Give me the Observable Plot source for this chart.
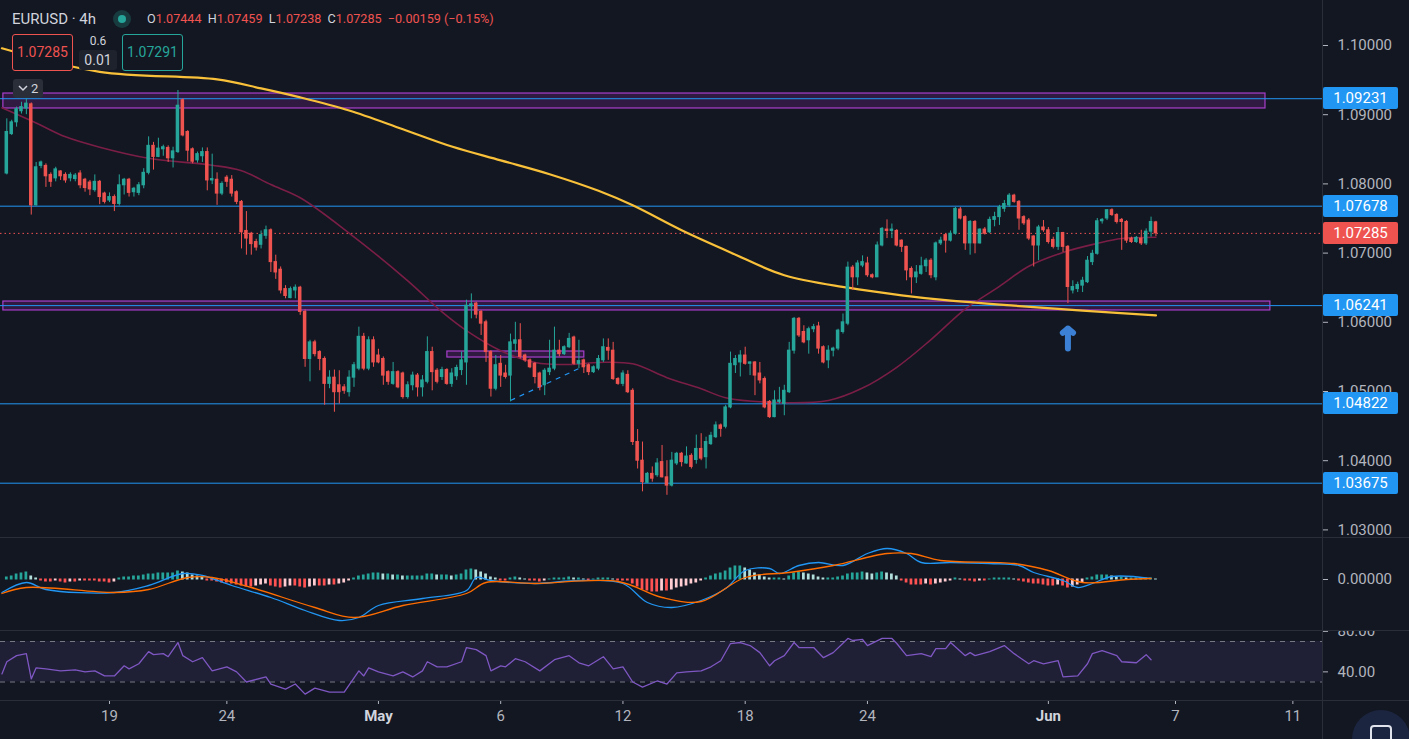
<!DOCTYPE html>
<html><head><meta charset="utf-8">
<script src="https://cdn.jsdelivr.net/npm/d3@7"></script>
<script src="https://cdn.jsdelivr.net/npm/@observablehq/plot@0.6"></script>
<style>
html,body{margin:0;padding:0;background:#131722;overflow:hidden;}
#wrap{position:relative;width:1409px;height:739px;overflow:hidden;background:#131722;font-family:Roboto,"Liberation Sans",sans-serif;}
#wrap svg{display:block;}
.pane{position:absolute;left:0;}
</style></head>
<body><div id="wrap"></div>
<script>
// ---------------- DATA ----------------
const symbol = "EURUSD · 4h";
const FIRST_BAR = -21; // bar index of first candle (bar 0 = 19 Apr 00:00)
// [open, high, low, close]
const ohlc = [
[1.0815,1.0894,1.0813,1.0875],[1.0872,1.0892,1.0870,1.0889],[1.0889,1.0911,1.0882,1.0908],[1.0905,1.0918,1.0901,1.0911],[1.0909,1.0923,1.0900,1.0916],
[1.0915,1.0917,1.0755,1.0769],[1.0769,1.0831,1.0768,1.0824],[1.0826,1.0833,1.0822,1.0831],[1.0826,1.0829,1.0795,1.0811],[1.0813,1.0816,1.0795,1.0803],
[1.0808,1.0824,1.0803,1.0821],[1.0818,1.0819,1.0805,1.0811],[1.0813,1.0816,1.0801,1.0805],[1.0808,1.0816,1.0803,1.0813],[1.0807,1.0815,1.0803,1.0812],
[1.0815,1.0819,1.0793,1.0798],[1.0806,1.0808,1.0788,1.0794],[1.0802,1.0805,1.0783,1.0792],[1.0791,1.0813,1.0788,1.0803],[1.0803,1.0805,1.0770,1.0781],
[1.0786,1.0788,1.0771,1.0774],[1.0776,1.0787,1.0773,1.0781],[1.0781,1.0784,1.0760,1.0771],[1.0771,1.0813,1.0768,1.0798],[1.0798,1.0808,1.0784,1.0806],
[1.0806,1.0808,1.0781,1.0787],[1.0788,1.0795,1.0781,1.0793],[1.0787,1.0802,1.0783,1.0798],[1.0798,1.0822,1.0793,1.0816],[1.0816,1.0868,1.0813,1.0855],
[1.0855,1.0860,1.0820,1.0839],[1.0839,1.0866,1.0838,1.0851],[1.0850,1.0856,1.0840,1.0853],[1.0852,1.0855,1.0831,1.0837],[1.0837,1.0853,1.0823,1.0847],
[1.0846,1.0935,1.0844,1.0913],[1.0921,1.0923,1.0868,1.0870],[1.0875,1.0877,1.0832,1.0848],[1.0850,1.0852,1.0829,1.0832],[1.0834,1.0846,1.0830,1.0843],
[1.0840,1.0852,1.0831,1.0846],[1.0846,1.0852,1.0790,1.0805],[1.0805,1.0843,1.0799,1.0807],[1.0806,1.0816,1.0769,1.0786],[1.0786,1.0803,1.0783,1.0800],
[1.0809,1.0812,1.0795,1.0803],[1.0806,1.0812,1.0781,1.0786],[1.0788,1.0790,1.0770,1.0774],[1.0774,1.0776,1.0706,1.0730],[1.0732,1.0760,1.0697,1.0721],
[1.0728,1.0730,1.0697,1.0713],[1.0716,1.0720,1.0703,1.0708],[1.0712,1.0732,1.0706,1.0726],[1.0725,1.0739,1.0720,1.0733],[1.0733,1.0735,1.0672,1.0687],
[1.0687,1.0697,1.0662,1.0672],[1.0676,1.0680,1.0641,1.0646],[1.0648,1.0653,1.0634,1.0638],[1.0635,1.0651,1.0634,1.0648],[1.0646,1.0654,1.0634,1.0650],
[1.0650,1.0652,1.0610,1.0615],[1.0615,1.0618,1.0535,1.0547],[1.0547,1.0574,1.0514,1.0571],[1.0571,1.0574,1.0550,1.0554],[1.0557,1.0559,1.0530,1.0547],
[1.0547,1.0550,1.0480,1.0511],[1.0511,1.0530,1.0504,1.0520],[1.0520,1.0531,1.0470,1.0499],[1.0509,1.0530,1.0482,1.0499],[1.0506,1.0510,1.0496,1.0501],
[1.0499,1.0530,1.0492,1.0520],[1.0520,1.0542,1.0506,1.0538],[1.0533,1.0593,1.0530,1.0579],[1.0579,1.0584,1.0530,1.0533],[1.0533,1.0579,1.0530,1.0574],
[1.0574,1.0579,1.0535,1.0542],[1.0552,1.0561,1.0540,1.0542],[1.0547,1.0550,1.0509,1.0523],[1.0528,1.0530,1.0509,1.0514],[1.0511,1.0542,1.0509,1.0528],
[1.0528,1.0530,1.0504,1.0506],[1.0526,1.0528,1.0489,1.0492],[1.0492,1.0514,1.0489,1.0509],[1.0509,1.0528,1.0501,1.0523],[1.0523,1.0526,1.0492,1.0506],
[1.0506,1.0523,1.0492,1.0516],[1.0514,1.0579,1.0511,1.0557],[1.0557,1.0564,1.0501,1.0528],[1.0530,1.0533,1.0511,1.0514],[1.0521,1.0535,1.0516,1.0531],
[1.0531,1.0533,1.0509,1.0511],[1.0511,1.0533,1.0506,1.0526],[1.0522,1.0538,1.0516,1.0534],[1.0531,1.0557,1.0523,1.0545],[1.0542,1.0632,1.0509,1.0624],
[1.0623,1.0641,1.0605,1.0626],[1.0627,1.0629,1.0605,1.0611],[1.0615,1.0617,1.0581,1.0598],[1.0600,1.0603,1.0542,1.0557],[1.0557,1.0559,1.0492,1.0504],
[1.0504,1.0552,1.0501,1.0538],[1.0540,1.0552,1.0506,1.0523],[1.0526,1.0538,1.0518,1.0521],[1.0523,1.0583,1.0485,1.0571],[1.0569,1.0600,1.0557,1.0574],
[1.0574,1.0598,1.0547,1.0550],[1.0552,1.0554,1.0542,1.0545],[1.0545,1.0547,1.0533,1.0535],[1.0540,1.0542,1.0511,1.0521],[1.0526,1.0528,1.0501,1.0506],
[1.0509,1.0533,1.0494,1.0530],[1.0528,1.0574,1.0523,1.0533],[1.0533,1.0593,1.0530,1.0559],[1.0559,1.0574,1.0550,1.0554],[1.0554,1.0566,1.0552,1.0564],
[1.0564,1.0584,1.0562,1.0576],[1.0578,1.0580,1.0538,1.0540],[1.0540,1.0574,1.0533,1.0544],[1.0545,1.0547,1.0526,1.0535],[1.0538,1.0540,1.0523,1.0528],
[1.0528,1.0537,1.0526,1.0535],[1.0533,1.0552,1.0530,1.0547],[1.0545,1.0576,1.0542,1.0564],[1.0563,1.0576,1.0545,1.0559],[1.0559,1.0571,1.0516,1.0518],
[1.0518,1.0520,1.0509,1.0511],[1.0511,1.0530,1.0507,1.0526],[1.0524,1.0530,1.0497,1.0499],[1.0501,1.0504,1.0422,1.0427],[1.0427,1.0445,1.0388,1.0400],
[1.0400,1.0427,1.0355,1.0369],[1.0368,1.0383,1.0367,1.0381],[1.0381,1.0391,1.0369,1.0374],[1.0379,1.0403,1.0376,1.0396],[1.0398,1.0422,1.0375,1.0376],
[1.0376,1.0400,1.0350,1.0364],[1.0364,1.0412,1.0362,1.0400],[1.0396,1.0412,1.0393,1.0410],[1.0410,1.0412,1.0391,1.0398],[1.0396,1.0420,1.0395,1.0406],
[1.0407,1.0410,1.0388,1.0391],[1.0401,1.0437,1.0395,1.0417],[1.0417,1.0439,1.0400,1.0403],[1.0405,1.0434,1.0388,1.0427],[1.0424,1.0441,1.0422,1.0436],
[1.0434,1.0456,1.0432,1.0451],[1.0451,1.0453,1.0434,1.0446],[1.0449,1.0480,1.0446,1.0477],[1.0477,1.0557,1.0475,1.0540],[1.0538,1.0552,1.0526,1.0547],
[1.0542,1.0559,1.0521,1.0552],[1.0552,1.0564,1.0538,1.0540],[1.0540,1.0543,1.0523,1.0542],[1.0542,1.0543,1.0494,1.0523],[1.0526,1.0542,1.0511,1.0516],
[1.0518,1.0521,1.0475,1.0477],[1.0485,1.0487,1.0461,1.0463],[1.0463,1.0501,1.0462,1.0487],[1.0485,1.0506,1.0482,1.0487],[1.0482,1.0509,1.0465,1.0501],
[1.0499,1.0571,1.0497,1.0559],[1.0559,1.0607,1.0554,1.0605],[1.0605,1.0607,1.0578,1.0581],[1.0586,1.0595,1.0569,1.0571],[1.0574,1.0593,1.0554,1.0590],
[1.0590,1.0597,1.0585,1.0593],[1.0594,1.0600,1.0554,1.0562],[1.0564,1.0566,1.0540,1.0542],[1.0545,1.0566,1.0533,1.0559],[1.0559,1.0564,1.0550,1.0562],
[1.0562,1.0590,1.0559,1.0588],[1.0586,1.0612,1.0583,1.0600],[1.0598,1.0687,1.0595,1.0679],[1.0679,1.0682,1.0646,1.0665],[1.0665,1.0689,1.0653,1.0685],
[1.0682,1.0696,1.0679,1.0687],[1.0685,1.0694,1.0665,1.0668],[1.0668,1.0670,1.0663,1.0665],[1.0665,1.0716,1.0665,1.0711],[1.0711,1.0737,1.0709,1.0735],
[1.0734,1.0748,1.0721,1.0732],[1.0732,1.0742,1.0721,1.0734],[1.0732,1.0734,1.0709,1.0711],[1.0718,1.0719,1.0701,1.0709],[1.0709,1.0710,1.0660,1.0675],
[1.0677,1.0680,1.0641,1.0665],[1.0665,1.0682,1.0656,1.0672],[1.0670,1.0694,1.0668,1.0681],[1.0681,1.0692,1.0672,1.0689],[1.0689,1.0692,1.0663,1.0668],
[1.0665,1.0716,1.0660,1.0714],[1.0714,1.0723,1.0711,1.0718],[1.0726,1.0728,1.0700,1.0718],[1.0718,1.0732,1.0716,1.0728],[1.0728,1.0766,1.0726,1.0764],
[1.0763,1.0766,1.0748,1.0750],[1.0752,1.0754,1.0704,1.0714],[1.0714,1.0747,1.0697,1.0745],[1.0745,1.0747,1.0699,1.0714],[1.0714,1.0735,1.0713,1.0734],
[1.0734,1.0737,1.0726,1.0728],[1.0730,1.0752,1.0728,1.0748],[1.0748,1.0759,1.0738,1.0752],[1.0752,1.0769,1.0740,1.0766],[1.0764,1.0776,1.0759,1.0771],
[1.0769,1.0786,1.0766,1.0783],[1.0783,1.0785,1.0772,1.0774],[1.0774,1.0776,1.0733,1.0750],[1.0752,1.0754,1.0740,1.0743],[1.0747,1.0750,1.0718,1.0721],
[1.0724,1.0725,1.0680,1.0711],[1.0711,1.0740,1.0689,1.0737],[1.0737,1.0747,1.0730,1.0733],[1.0733,1.0737,1.0713,1.0716],[1.0719,1.0723,1.0706,1.0709],
[1.0709,1.0737,1.0704,1.0729],[1.0729,1.0730,1.0701,1.0709],[1.0709,1.0711,1.0627,1.0651],[1.0646,1.0660,1.0641,1.0651],[1.0648,1.0658,1.0643,1.0654],
[1.0653,1.0665,1.0643,1.0660],[1.0658,1.0695,1.0656,1.0689],[1.0687,1.0704,1.0682,1.0699],[1.0699,1.0750,1.0697,1.0746],[1.0746,1.0750,1.0742,1.0748],
[1.0750,1.0763,1.0747,1.0762],[1.0762,1.0764,1.0753,1.0755],[1.0755,1.0757,1.0742,1.0745],[1.0748,1.0750,1.0704,1.0745],[1.0745,1.0747,1.0714,1.0718],
[1.0721,1.0723,1.0714,1.0716],[1.0716,1.0724,1.0714,1.0722],[1.0721,1.0733,1.0711,1.0714],[1.0714,1.0735,1.0711,1.0731],[1.0731,1.0752,1.0723,1.0745],
[1.07444,1.07459,1.07238,1.07285]
];
// slow moving average (yellow) [bar, price]
const slowMA = [[-22,1.0996],[-2,1.0962],[22,1.0951],[31,1.0938],[39,1.0925],[49,1.0906],[60,1.0879],[70,1.0854],[80,1.0834],[90,1.0814],[100,1.0790],[107,1.0769],[117,1.0733],[127,1.0701],[138,1.0668],[151,1.0650],[162,1.0639],[171,1.0632],[185,1.0624],[199,1.0617],[214,1.0610]];
// fast moving average (maroon) [bar, price]
const fastMA = [[-22,1.0910],[-15,1.0888],[-9,1.0868],[-2,1.0853],[8,1.0837],[21,1.0827],[27,1.0819],[33,1.0799],[39,1.0780],[49,1.0729],[61,1.0660],[68,1.0615],[73,1.0588],[80,1.0559],[87,1.0542],[94,1.0539],[100,1.0542],[107,1.0540],[114,1.0520],[121,1.0504],[126,1.0491],[137,1.0484],[147,1.0487],[154,1.0505],[161,1.0535],[168,1.0575],[175,1.0619],[182,1.0652],[188,1.0681],[195,1.0701],[202,1.0714],[207,1.0721],[214,1.0723]];
// horizontal levels
const levels = [1.09231, 1.07678, 1.06241, 1.04822, 1.03675];
const lastPrice = 1.07285;
const askPrice = 1.07291;
const change = "−0.00159 (−0.15%)";
// zones [fromBar, toBar, low, high]
const zones = [[-21.7,236.4,1.0909,1.09306],[-21.7,237.4,1.06171,1.0630],[69.1,97.1,1.05491,1.05578]];
const trendLine = [[82,1.0487,97.3,1.05376]];
const arrowUp = [[196,1.05621,1.0591]];
const priceTicks = [1.03,1.04,1.05,1.06,1.07,1.08,1.09,1.10];
// MACD, in units of 0.0001
const macdLine = [[-22,-13],[-17,-3],[-13,-10],[1,-13],[8,-6],[15,6],[19,4],[25,-6],[33,-18],[40,-31],[47,-41],[51,-38],[55,-26],[64,-19],[73,-11],[75,2],[78,-1],[87,-4],[96,-1],[105,-4],[110,-23],[115,-28],[121,-21],[126,-9],[130,9],[135,11],[137,6],[141,14],[145,17],[150,14],[155,26],[159,31],[163,26],[166,17],[172,17],[180,16],[186,14],[189,7],[195,-1],[198,-8],[201,-4],[205,3],[213,1]];
const signalLine = [[-22,-14],[-17,-8],[1,-13],[8,-10],[16,2],[21,2],[29,-8],[42,-28],[50,-38],[60,-26],[73,-14],[77,-3],[87,-4],[104,-2],[113,-18],[121,-22],[130,2],[139,7],[148,14],[159,26],[164,26],[170,19],[185,16],[192,9],[199,-3],[208,0],[213,1]];
const macdHist = [
2,3,5,6,7,3,1,-1,-2,-2, -1,-2,-3,-2,-2,-1,-1,-1,-1,-2, -2,-3,-2,1,2,2,3,3,4,5,
5,6,6,6,6,8,7,6,4,3, 2,-1,-1,-2,-3,-3,-4,-5,-6,-7, -7,-6,-5,-4,-6,-7,-8,-7,-6,-6,
-7,-8,-7,-6,-6,-6,-5,-5,-4,-3, -1,1,3,4,5,6,6,5,5,4, 4,3,3,3,3,3,5,5,4,4,
4,3,4,5,9,10,9,7,5,2, 1,-1,-1,1,2,1,0,-1,-1,-2, -1,0,1,1,1,2,1,1,0,-1,
0,1,1,1,0,-1,-1,-1,-4,-7, -10,-11,-12,-12,-11,-11,-10,-8,-7,-6, -4,-3,-1,1,3,5,6,8,11,13,
13,11,9,6,4,2,1,1,1,0, 3,6,7,6,5,4,2,1,1,1, 2,3,5,6,6,7,6,5,6,7,
6,5,3,-1,-3,-5,-5,-5,-4,-5, -4,-3,-2,-1,1,0,-1,-1,-2,-1, -1,0,1,1,1,1,0,-1,-2,-3,
-4,-4,-5,-6,-6,-5,-6,-8,-7,-5, -3,1,2,4,4,4,3,2,2,1, 1,1,1,1,1,0
];
// RSI [bar, value]
const rsi = [[-22,38],[-21,50],[-19,56],[-17,58],[-16,33],[-15,44],[-13,43],[-10,41],[-7,42],[-5,40],[-3,41],[-1,36],[1,36],[3,46],[4,43],[6,48],[8,60],[9,57],[11,58],[12,55],[14,69],[15,56],[17,50],[19,54],[21,41],[24,45],[26,40],[28,30],[32,35],[33,28],[36,23],[38,28],[40,18],[42,24],[45,20],[48,20],[51,41],[52,36],[53,44],[55,40],[58,36],[60,40],[62,35],[64,41],[65,50],[67,45],[69,45],[72,50],[73,64],[75,62],[77,56],[78,41],[80,46],[81,45],[83,53],[85,50],[88,41],[91,52],[94,56],[96,49],[98,46],[101,55],[103,43],[105,45],[107,30],[109,25],[112,31],[114,28],[116,39],[118,40],[121,41],[123,45],[125,51],[127,68],[129,69],[131,66],[133,59],[135,46],[136,51],[138,56],[140,69],[141,64],[144,64],[146,54],[148,59],[151,73],[152,71],[154,72],[155,66],[158,73],[160,73],[161,68],[163,56],[166,58],[168,55],[169,63],[171,63],[172,69],[175,56],[176,59],[177,56],[180,60],[183,66],[185,58],[188,48],[189,51],[191,48],[194,51],[195,35],[198,36],[200,48],[201,58],[203,61],[206,56],[207,50],[210,49],[212,57],[213,52]];
const rsiBand = [30, 70];
const rsiTicks = [40, 80];
// time axis: bar index of each labelled day
const xTickBars = [0, 24, 55, 80, 105, 130, 155, 192, 218, 242];
const xTickLabels = ["19", "24", "May", "6", "12", "18", "24", "Jun", "7", "11"];
const monthLabels = ["May", "Jun"];

// ---------------- LAYOUT / STYLE ----------------
const W = 1409, AXIS_W = 87;
const xDomain = [-22.29, 248.06];
const FONT = "Roboto, 'Liberation Sans', sans-serif";
const UP = "#26a69a", DOWN = "#ef5350", BLUE = "#2196f3";
const baseStyle = {background: "transparent", color: "#b2b5be", fontFamily: FONT, fontSize: "15px", overflow: "visible"};

const rows = ohlc.map((d, k) => ({i: FIRST_BAR + k, o: d[0], h: d[1], l: d[2], c: d[3]}));
const cColor = d => d.c >= d.o ? UP : DOWN;
const wrap = document.getElementById("wrap");

// ---- main price pane ----
const main = Plot.plot({
  width: W, height: 537, marginLeft: 0, marginRight: AXIS_W, marginTop: 0, marginBottom: 0,
  style: baseStyle,
  x: {domain: xDomain, axis: null},
  y: {domain: [1.028902, 1.106503]},
  marks: [
    Plot.rect(zones, {x1: d => d[0], x2: d => d[1], y1: d => d[2], y2: d => d[3], fill: "#9c27b0", fillOpacity: 0.22, stroke: "#a83fcb", strokeWidth: 1.2, clip: true}),
    Plot.ruleY(levels, {stroke: BLUE, strokeWidth: 1}),
    Plot.ruleY([lastPrice], {stroke: DOWN, strokeDasharray: "1.5,3", strokeWidth: 1}),
    Plot.line(fastMA, {x: d => d[0], y: d => d[1], stroke: "#7a1e46", strokeWidth: 1.6, curve: "catmull-rom", clip: true}),
    Plot.line(slowMA, {x: d => d[0], y: d => d[1], stroke: "#f9c13a", strokeWidth: 2.2, curve: "catmull-rom", clip: true}),
    Plot.link(trendLine, {x1: d => d[0], y1: d => d[1], x2: d => d[2], y2: d => d[3], stroke: BLUE, strokeDasharray: "5,5", strokeWidth: 1.2}),
    Plot.ruleX(rows, {x: "i", y1: "l", y2: "h", stroke: cColor, strokeWidth: 1}),
    Plot.rect(rows, {x1: d => d.i - 0.36, x2: d => d.i + 0.36, y1: d => Math.min(d.o, d.c), y2: d => Math.max(d.o, d.c), fill: cColor, insetTop: -0.5, insetBottom: -0.5}),
    Plot.arrow(arrowUp, {x1: d => d[0], x2: d => d[0], y1: d => d[1], y2: d => d[2], stroke: "#3b80d4", strokeWidth: 6, headAngle: 100, headLength: 14, strokeLinecap: "round", strokeLinejoin: "round"}),
    Plot.axisY({anchor: "right", ticks: priceTicks, tickFormat: d => d.toFixed(5), tickSize: 5, tickPadding: 10, label: null, fontSize: 15})
  ]
});
main.classList.add("pane"); main.style.top = "0px";
wrap.appendChild(main);

// ---- MACD pane ----
const histRows = macdHist.map((v, k) => ({i: FIRST_BAR + k, v, p: k ? macdHist[k - 1] : v}));
const histColor = d => d.v >= 0 ? (d.v >= d.p ? "#26a69a" : "#b2dfdb") : (d.v <= d.p ? "#ff5252" : "#ffcdd2");
const macd = Plot.plot({
  width: W, height: 93, marginLeft: 0, marginRight: AXIS_W, marginTop: 0, marginBottom: 0,
  style: baseStyle,
  x: {domain: xDomain, axis: null},
  y: {domain: [-51, 42]},
  marks: [
    Plot.rect(histRows, {x1: d => d.i - 0.28, x2: d => d.i + 0.28, y1: 0, y2: "v", fill: histColor, insetTop: -0.5, insetBottom: -0.5}),
    Plot.line(macdLine, {x: d => d[0], y: d => d[1], stroke: BLUE, strokeWidth: 1.3, curve: "catmull-rom", clip: true}),
    Plot.line(signalLine, {x: d => d[0], y: d => d[1], stroke: "#ff6d00", strokeWidth: 1.3, curve: "catmull-rom", clip: true}),
    Plot.axisY({anchor: "right", ticks: [0], tickFormat: () => "0.00000", tickSize: 5, tickPadding: 10, label: null, fontSize: 15})
  ]
});
macd.classList.add("pane"); macd.style.top = "537px";
wrap.appendChild(macd);

// ---- RSI pane + time axis ----
const tickLabel = d => xTickLabels[xTickBars.indexOf(d)];
const rsiPlot = Plot.plot({
  width: W, height: 109, marginLeft: 0, marginRight: AXIS_W, marginTop: 0, marginBottom: 39,
  style: {...baseStyle, overflow: "hidden"},
  x: {domain: xDomain},
  y: {domain: [11.73, 80.86]},
  marks: [
    Plot.rect([rsiBand], {y1: d => d[0], y2: d => d[1], fill: "#7e57c2", fillOpacity: 0.12}),
    Plot.ruleY(rsiBand, {stroke: "#787b86", strokeDasharray: "5,5", strokeWidth: 1}),
    Plot.line(rsi, {x: d => d[0], y: d => d[1], stroke: "#7e57c2", strokeWidth: 1.3, clip: true}),
    Plot.axisY({anchor: "right", ticks: rsiTicks, tickFormat: d => d.toFixed(2), tickSize: 5, tickPadding: 10, label: null, fontSize: 15}),
    Plot.axisX({anchor: "bottom", ticks: xTickBars.filter(b => !monthLabels.includes(tickLabel(b))), tickFormat: tickLabel, tickSize: 4, tickPadding: 6, label: null, fontSize: 15}),
    Plot.axisX({anchor: "bottom", ticks: xTickBars.filter(b => monthLabels.includes(tickLabel(b))), tickFormat: tickLabel, tickSize: 4, tickPadding: 6, label: null, fontSize: 15, fontWeight: "bold", fill: "#d1d4dc"})
  ]
});
rsiPlot.classList.add("pane"); rsiPlot.style.top = "630px";
wrap.appendChild(rsiPlot);

// ---- separators ----
function div(css, html) { const e = document.createElement("div"); e.style.cssText = css; if (html) e.innerHTML = html; wrap.appendChild(e); return e; }
div("position:absolute;left:0;top:537px;width:1409px;height:1px;background:#2a2e39");
div("position:absolute;left:0;top:630px;width:1409px;height:1px;background:#2a2e39");
div("position:absolute;left:0;top:700px;width:1409px;height:1px;background:#2a2e39");
div("position:absolute;left:1322px;top:0;width:1px;height:739px;background:#2a2e39");

// ---- price tags on the right axis (positioned with Plot's y scale) ----
const yMain = main.scale("y");
for (const v of levels) {
  const y = yMain.apply(v);
  div(`position:absolute;left:1323px;top:${y - 11}px;width:75px;height:22px;line-height:22px;background:${BLUE};color:#fff;font-size:15px;text-align:center;border-radius:2px;font-family:${FONT}`, v.toFixed(5));
}
{
  const y = yMain.apply(lastPrice);
  div(`position:absolute;left:1323px;top:${y - 11}px;width:75px;height:22px;line-height:22px;background:${DOWN};color:#fff;font-size:15px;text-align:center;border-radius:2px;font-family:${FONT}`, lastPrice.toFixed(5));
}

// ---- legend (top left) ----
const last = ohlc[ohlc.length - 1];
div(`position:absolute;left:12px;top:9px;font-size:15px;color:#d1d4dc;line-height:20px;font-family:${FONT}`, symbol);
div("position:absolute;left:113px;top:10px;width:18px;height:18px;border-radius:50%;background:rgba(38,166,154,0.25)");
div("position:absolute;left:118px;top:15px;width:8px;height:8px;border-radius:50%;background:#26a69a");
const ohlcNames = ["O", "H", "L", "C"];
div(`position:absolute;left:147px;top:10px;font-size:12.6px;line-height:18px;color:#d1d4dc;white-space:nowrap;font-family:${FONT}`,
  ohlcNames.map((n, k) => `${n}<span style="color:${DOWN}">${last[k].toFixed(5)}</span>`).join("&nbsp; ") + `&nbsp; <span style="color:${DOWN}">${change}</span>`);
div(`position:absolute;left:12px;top:34px;width:61px;height:37px;box-sizing:border-box;border:1px solid ${DOWN};border-radius:3px;background:#131722;color:${DOWN};font-size:14px;line-height:35px;text-align:center;font-family:${FONT}`, lastPrice.toFixed(5));
div(`position:absolute;left:79px;top:33px;width:38px;text-align:center;font-size:12px;color:#d1d4dc;line-height:16px;font-family:${FONT}`, "0.6");
div(`position:absolute;left:79px;top:50px;width:38px;height:20px;border-radius:3px;background:#1e222d;text-align:center;font-size:14px;color:#d1d4dc;line-height:20px;font-family:${FONT}`, "0.01");
div(`position:absolute;left:122px;top:34px;width:61px;height:37px;box-sizing:border-box;border:1px solid ${UP};border-radius:3px;background:#131722;color:${UP};font-size:14px;line-height:35px;text-align:center;font-family:${FONT}`, askPrice.toFixed(5));
div(`position:absolute;left:13px;top:79px;width:30px;height:19px;border-radius:3px;background:#2a2e39;color:#d1d4dc;font-size:13px;line-height:19px;font-family:${FONT}`,
  `<svg width="10" height="8" style="position:absolute;left:5px;top:6px"><polyline points="1,1 5,5 9,1" fill="none" stroke="#d1d4dc" stroke-width="1.5"/></svg><span style="position:absolute;left:18px;top:0">2</span>`);

// ---- bottom-right button ----
div("position:absolute;left:1352px;top:710px;width:58px;height:58px;border-radius:50%;background:#1c2540");
div("position:absolute;left:1370px;top:725px;width:18px;height:18px;border:2.5px solid #e0e3eb;border-radius:4px");
</script></body></html>
